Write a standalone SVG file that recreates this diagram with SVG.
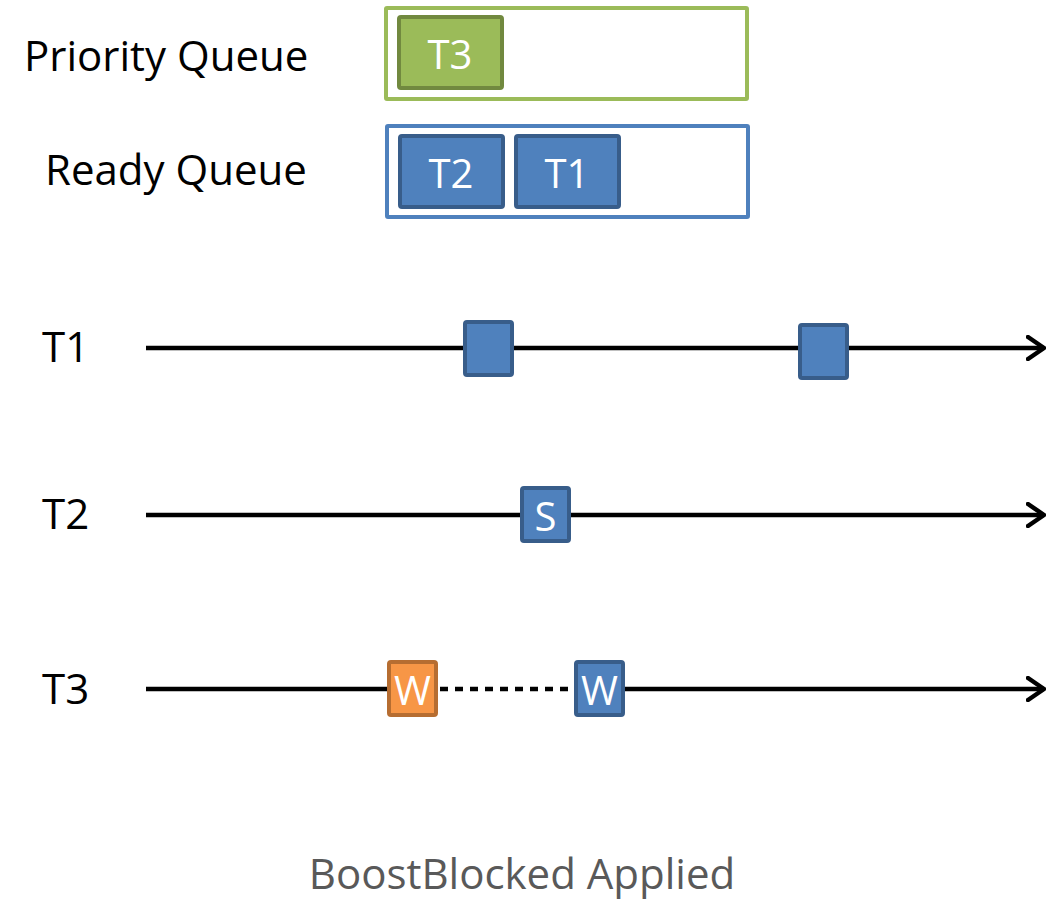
<svg xmlns="http://www.w3.org/2000/svg" width="1059" height="899" viewBox="0 0 1059 899">
<style>
.lbl{font-family:"Open Sans","Liberation Sans",sans-serif;font-size:42px;fill:#000}
.wt{font-family:"Open Sans","Liberation Sans",sans-serif;font-size:40px;fill:#fff;text-anchor:middle;dominant-baseline:central}
.blue{fill:#4F81BD;stroke:#385D8A;stroke-width:4}
.green{fill:#9BBB59;stroke:#71893F;stroke-width:4}
.orange{fill:#F79646;stroke:#B66D31;stroke-width:4}
.line{stroke:#000;stroke-width:4.5;fill:none}
</style>
<defs>
<marker id="arr" viewBox="0 0 20 26" refX="18" refY="13" markerWidth="20" markerHeight="26" markerUnits="userSpaceOnUse" orient="auto">
<path d="M2,2 L18,13 L2,24" fill="none" stroke="#000" stroke-width="4.5" stroke-linecap="round" stroke-linejoin="round"/>
</marker>
</defs>
<rect width="1059" height="899" fill="#fff"/>
<g id="labels">
<text class="lbl" x="24" y="71">Priority Queue</text>
<text class="lbl" x="45" y="185">Ready Queue</text>
<text class="lbl" x="42" y="362">T1</text>
<text class="lbl" x="42" y="529">T2</text>
<text class="lbl" x="42" y="704">T3</text>
<text x="522" y="889" font-family="'Open Sans','Liberation Sans',sans-serif" font-size="42" fill="#595959" text-anchor="middle">BoostBlocked Applied</text>
</g>
<g id="priority-queue">
<rect x="386" y="8" width="361" height="91" fill="#fff" stroke="#9BBB59" stroke-width="4" rx="1"/>
</g>
<g id="ready-queue">
<rect x="387" y="126" width="361" height="91" fill="#fff" stroke="#4F81BD" stroke-width="4" rx="1"/>
</g>
<g id="pq-T3"><rect class="green" x="399" y="17" width="103" height="71" rx="2"/><text class="wt" x="450" y="53">T3</text></g>
<g id="rq-T2"><rect class="blue" x="400" y="136" width="103" height="71" rx="2"/><text class="wt" x="451" y="172">T2</text></g>
<g id="rq-T1"><rect class="blue" x="516" y="136" width="103" height="71" rx="2"/><text class="wt" x="567" y="172">T1</text></g>
<g id="connectors">
<line class="line" x1="146" y1="348" x2="1044" y2="348" marker-end="url(#arr)"/>
<line class="line" x1="146" y1="515" x2="1044" y2="515" marker-end="url(#arr)"/>
<line class="line" x1="146" y1="689" x2="389" y2="689"/>
<line class="line" x1="440" y1="689" x2="576" y2="689" stroke-dasharray="8,7"/>
<line class="line" x1="622" y1="689" x2="1044" y2="689" marker-end="url(#arr)"/>
</g>
<g id="t1-run1"><rect class="blue" x="465" y="322" width="47" height="53" rx="2"/></g>
<g id="t1-run2"><rect class="blue" x="800" y="325" width="47" height="53" rx="2"/></g>
<g id="t2-s"><rect class="blue" x="522" y="488" width="47" height="53" rx="2"/><text class="wt" x="545.5" y="515">S</text></g>
<g id="t3-w1"><rect class="orange" x="389" y="662" width="47" height="53" rx="2"/><text class="wt" x="412.5" y="689">W</text></g>
<g id="t3-w2"><rect class="blue" x="576" y="662" width="47" height="53" rx="2"/><text class="wt" x="599.5" y="689">W</text></g>
</svg>
